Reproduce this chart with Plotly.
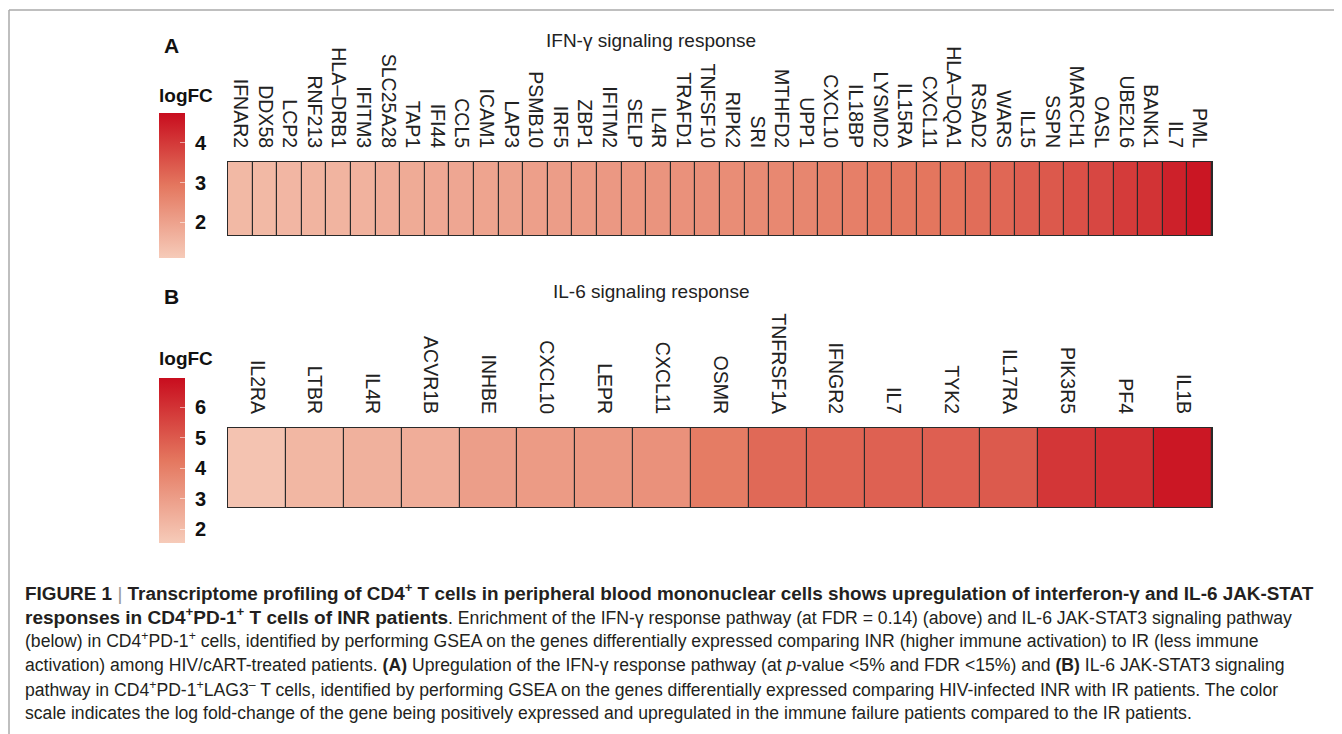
import plotly.graph_objects as go

# ---------------- data ----------------
ifn_genes = ["IFNAR2", "DDX58", "LCP2", "RNF213", "HLA–DRB1", "IFITM3", "SLC25A28", "TAP1",
             "IFI44", "CCL5", "ICAM1", "LAP3", "PSMB10", "IRF5", "ZBP1", "IFITM2", "SELP",
             "IL4R", "TRAFD1", "TNFSF10", "RIPK2", "SRI", "MTHFD2", "UPP1", "CXCL10", "IL18BP",
             "LYSMD2", "IL15RA", "CXCL11", "HLA–DQA1", "RSAD2", "WARS", "IL15", "SSPN",
             "MARCH1", "OASL", "UBE2L6", "BANK1", "IL7", "PML"]
ifn_logfc = [1.50, 1.50, 1.55, 1.60, 1.60, 1.65, 1.75, 1.80, 1.85, 1.90, 1.95, 2.00, 2.05,
             2.10, 2.15, 2.20, 2.25, 2.30, 2.35, 2.40, 2.45, 2.50, 2.55, 2.60, 2.70, 2.75,
             2.85, 2.90, 2.95, 3.00, 3.10, 3.20, 3.35, 3.45, 3.60, 3.75, 3.95, 4.10, 4.40, 4.60]

il6_genes = ["IL2RA", "LTBR", "IL4R", "ACVR1B", "INHBE", "CXCL10", "LEPR", "CXCL11", "OSMR",
             "TNFRSF1A", "IFNGR2", "IL7", "TYK2", "IL17RA", "PIK3R5", "PF4", "IL1B"]
il6_logfc = [1.80, 2.20, 2.40, 2.50, 3.00, 3.10, 3.20, 3.40, 4.10, 4.60, 4.70, 4.80, 4.85,
             5.00, 5.90, 6.10, 6.70]

ifn_ticks = [2, 3, 4]
il6_ticks = [2, 3, 4, 5, 6]
ifn_range = [1.1, 4.75]
il6_range = [1.55, 6.95]

panel_titles = ["IFN-γ signaling response", "IL-6 signaling response"]
panel_letters = ["A", "B"]

BIG = "<span style='font-size:19px'>"
caption_lines = [
    ("<b>FIGURE 1</b> <span style='color:#999'>|</span> <b>Transcriptome profiling of CD4<sup>+</sup> T cells in peripheral blood mononuclear cells shows upregulation of interferon-γ and IL-6 JAK-STAT</b>", 18.9),
    (BIG + "<b>responses in CD4<sup>+</sup>PD-1<sup>+</sup> T cells of INR patients</b></span>. Enrichment of the IFN-γ response pathway (at FDR = 0.14) (above) and IL-6 JAK-STAT3 signaling pathway", 17.6),
    ("(below) in CD4<sup>+</sup>PD-1<sup>+</sup> cells, identified by performing GSEA on the genes differentially expressed comparing INR (higher immune activation) to IR (less immune", 17.6),
    ("activation) among HIV/cART-treated patients. <b>(A)</b> Upregulation of the IFN-γ response pathway (at <i>p</i>-value &lt;5% and FDR &lt;15%) and <b>(B)</b> IL-6 JAK-STAT3 signaling", 17.6),
    ("pathway in CD4<sup>+</sup>PD-1<sup>+</sup>LAG3<sup>–</sup> T cells, identified by performing GSEA on the genes differentially expressed comparing HIV-infected INR with IR patients. The color", 17.6),
    ("scale indicates the log fold-change of the gene being positively expressed and upregulated in the immune failure patients compared to the IR patients.", 17.6),
]

# ---------------- layout helpers ----------------
OFF = 8                      # page body margin
W, H = 1342 - OFF, 734 - OFF
def px_x(x):
    return (x - OFF) / W
def px_y(y):
    return 1 - (y - OFF) / H

colorscale = [[0.0, "#f6cbb9"], [0.5, "#e4775f"], [1.0, "#c80d1e"]]
FONT = "Liberation Sans, Arial, sans-serif"
NB = "\u00a0"

fig = go.Figure()

panels = [
    dict(genes=ifn_genes, vals=ifn_logfc, rng=ifn_range, ticks=ifn_ticks,
         ytop=162, ybot=235, cb_top=113, cb_bot=258, xa="x", ya="y"),
    dict(genes=il6_genes, vals=il6_logfc, rng=il6_range, ticks=il6_ticks,
         ytop=428, ybot=507, cb_top=378, cb_bot=543, xa="x2", ya="y2"),
]

for i, p in enumerate(panels):
    cb_len = p["cb_bot"] - p["cb_top"]
    fig.add_trace(go.Heatmap(
        z=[p["vals"]], x=p["genes"], y=[0],
        xaxis=p["xa"], yaxis=p["ya"],
        colorscale=colorscale, zmin=p["rng"][0], zmax=p["rng"][1],
        xgap=1.2, hoverinfo="skip",
        colorbar=dict(
            x=px_x(159), xanchor="left", xpad=0, ypad=0,
            y=px_y((p["cb_top"] + p["cb_bot"]) / 2), yanchor="middle",
            len=cb_len, lenmode="pixels", thickness=26, thicknessmode="pixels",
            outlinewidth=0,
            tickvals=p["ticks"], ticktext=[NB + str(t) for t in p["ticks"]],
            ticks="inside", ticklen=5, tickcolor="rgba(255,255,255,0.55)",
            tickfont=dict(family=FONT, size=20, color="#111", weight="bold"),
        ),
    ))

x_dom = [px_x(228), px_x(1212)]
axis_common = dict(showline=True, mirror=True, linecolor="#2a2a2a", linewidth=1.2,
                   showgrid=False, zeroline=False)
xaxis_common = dict(side="top", tickangle=90, ticks="outside", ticklen=6,
                    tickcolor="rgba(0,0,0,0)", tickfont=dict(size=19.5, color="#222"))
fig.update_layout(
    width=W, height=H, autosize=False,
    margin=dict(l=0, r=0, t=0, b=0),
    paper_bgcolor="white", plot_bgcolor="#2a2a2a",
    font=dict(family=FONT, color="#222"),
    xaxis=dict(domain=x_dom, anchor="y", **xaxis_common, **axis_common),
    yaxis=dict(domain=[px_y(panels[0]["ybot"]), px_y(panels[0]["ytop"])], anchor="x",
               showticklabels=False, ticks="", **axis_common),
    xaxis2=dict(domain=x_dom, anchor="y2", **xaxis_common, **axis_common),
    yaxis2=dict(domain=[px_y(panels[1]["ybot"]), px_y(panels[1]["ytop"])], anchor="x2",
                showticklabels=False, ticks="", **axis_common),
)

annotations = []
for letter, title, ly, ty in zip(panel_letters, panel_titles, [46, 296], [41, 291]):
    annotations.append(dict(text="<b>" + letter + "</b>", x=px_x(162), y=px_y(ly),
                            xref="paper", yref="paper", xanchor="left", yanchor="middle",
                            showarrow=False, font=dict(family=FONT, size=21, color="#111")))
    annotations.append(dict(text=title, x=px_x(651), y=px_y(ty),
                            xref="paper", yref="paper", xanchor="center", yanchor="middle",
                            showarrow=False, font=dict(family=FONT, size=19, color="#222")))
for ly in [95, 358]:
    annotations.append(dict(text="<b>logFC</b>", x=px_x(157), y=px_y(ly),
                            xref="paper", yref="paper", xanchor="left", yanchor="middle",
                            showarrow=False, font=dict(family=FONT, size=19, color="#111")))
for k, (line, size) in enumerate(caption_lines):
    annotations.append(dict(text=line, x=px_x(23), y=px_y(592 + 24.2 * k),
                            xref="paper", yref="paper", xanchor="left", yanchor="middle",
                            showarrow=False, align="left",
                            font=dict(family=FONT, size=size, color="#231f20")))
fig.update_layout(annotations=annotations)

# figure frame (top and left rule)
fig.add_shape(type="line", xref="paper", yref="paper", x0=px_x(9), x1=1, y0=px_y(10), y1=px_y(10),
              line=dict(color="#aaaaaa", width=1.5))
fig.add_shape(type="line", xref="paper", yref="paper", x0=px_x(9), x1=px_x(9), y0=0, y1=px_y(10),
              line=dict(color="#aaaaaa", width=1.5))

fig.write_html("out.html")
